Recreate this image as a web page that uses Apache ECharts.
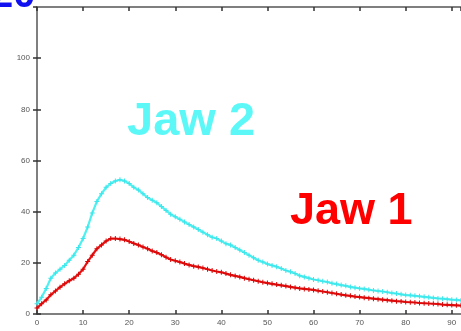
<!DOCTYPE html>
<html>
<head>
<meta charset="utf-8">
<script src="https://cdn.jsdelivr.net/npm/echarts@6/dist/echarts.min.js"></script>
<style>html,body{margin:0;padding:0;background:#fff;}#c{width:461px;height:331px;}</style>
</head>
<body>
<div id="c"></div>
<script>
var xValues = [];
for (var i = 0; i <= 92; i++) xValues.push(i);
var jaw2 = [4,6.5,10,14,16,17.5,19,21,23,26,29.5,34,39.5,44,47,49.5,51,52,52.5,52,51,49.5,48.5,47,45.5,44.5,43.5,42,40.5,39,38,37,36,35,34,33,32,31,30,29.5,28.5,27.5,27,26,25,24,23,22,21,20.3,19.5,19,18.5,17.8,17,16.5,15.8,15,14.5,14,13.5,13.2,12.8,12.5,12,11.7,11.3,11,10.6,10.3,10,9.8,9.5,9.2,9,8.8,8.5,8.2,8,7.7,7.4,7.3,7.1,6.9,6.7,6.5,6.3,6.1,6,5.8,5.6,5.5,5.3];
var jaw1 = [2.3,4,5.5,7.5,9,10.5,11.8,13,14,15.5,17.5,20.5,23,25.5,27,28.5,29.5,29.5,29.3,29,28.3,27.6,27,26.2,25.5,24.6,24,23.2,22.2,21.3,20.8,20.3,19.7,19.2,18.7,18.4,18,17.5,17,16.6,16.3,15.8,15.3,14.9,14.5,14,13.6,13.2,12.8,12.4,12.1,11.8,11.5,11.2,10.9,10.6,10.3,10,9.8,9.6,9.4,9.1,8.8,8.5,8.2,7.9,7.6,7.3,7.1,6.8,6.6,6.4,6.2,6,5.8,5.6,5.4,5.2,5,4.9,4.7,4.6,4.5,4.3,4.2,4.1,4,3.9,3.7,3.6,3.5,3.4,3.3];
var seriesNames = ['Jaw 2', 'Jaw 1'];
var xTicks = [0,10,20,30,40,50,60,70,80,90];
var yTicks = [0,20,40,60,80,100,120];

function pairs(arr){ return arr.map(function(v,i){ return [xValues[i], v]; }); }
var plus = 'path://M2,0H3V2H5V3H3V5H2V3H0V2H2Z';
var axisColor = '#555';
var labelStyle = {color:'#555', fontSize:8, fontFamily:'Liberation Sans, Arial, sans-serif'};

var chart = echarts.init(document.getElementById('c'));
chart.setOption({
  animation:false,
  grid:{left:37, right:0, top:7, bottom:17},
  xAxis:[{
    type:'value', min:0, max:92, interval:10, position:'bottom',
    axisLine:{show:true, onZero:false, lineStyle:{color:axisColor, width:1.5}},
    axisTick:{show:true, inside:true, length:4, lineStyle:{color:'#333', width:1.5}},
    axisLabel:Object.assign({margin:5, showMaxLabel:false}, labelStyle),
    splitLine:{show:false}
  },{
    type:'value', min:0, max:92, interval:10, position:'top',
    axisLine:{show:true, onZero:false, lineStyle:{color:axisColor, width:1.5}},
    axisTick:{show:true, inside:true, length:4, lineStyle:{color:'#333', width:1.5}},
    axisLabel:{show:false}, splitLine:{show:false}
  }],
  yAxis:[{
    type:'value', min:0, max:120, interval:20, position:'left',
    axisLine:{show:true, onZero:false, lineStyle:{color:axisColor, width:1.5}},
    axisTick:{show:true, inside:true, length:4, lineStyle:{color:'#333', width:1.5}},
    axisLabel:Object.assign({margin:7, showMaxLabel:false}, labelStyle),
    splitLine:{show:false}
  },{
    type:'value', min:0, max:120, interval:20, position:'right',
    axisLine:{show:false},
    axisTick:{show:true, inside:true, length:4, lineStyle:{color:'#333', width:1.5}},
    axisLabel:{show:false}, splitLine:{show:false}
  }],
  series:[{
    name:seriesNames[0], type:'line', data:pairs(jaw2),
    symbol:plus, symbolSize:5, showSymbol:true,
    lineStyle:{color:'#4ff0f0', width:2.2}, itemStyle:{color:'#3ee6ec'}, z:2
  },{
    name:seriesNames[1], type:'line', data:pairs(jaw1),
    symbol:plus, symbolSize:5, showSymbol:true,
    lineStyle:{color:'#e81010', width:2.2}, itemStyle:{color:'#d80808'}, z:3
  }],
  graphic:[
    {type:'text', left:127, top:99, style:{text:'Jaw 2', fill:'#5cf8f8', font:'bold 47px "Liberation Sans", Arial, sans-serif'}},
    {type:'text', left:290, top:189, style:{text:'Jaw 1', fill:'#ff0000', font:'bold 45px "Liberation Sans", Arial, sans-serif'}},
    {type:'text', x:-9, y:-24, style:{text:'20', fill:'#1010f0', font:'bold 40px "Liberation Sans", Arial, sans-serif'}}
  ]
});
</script>
</body>
</html>
